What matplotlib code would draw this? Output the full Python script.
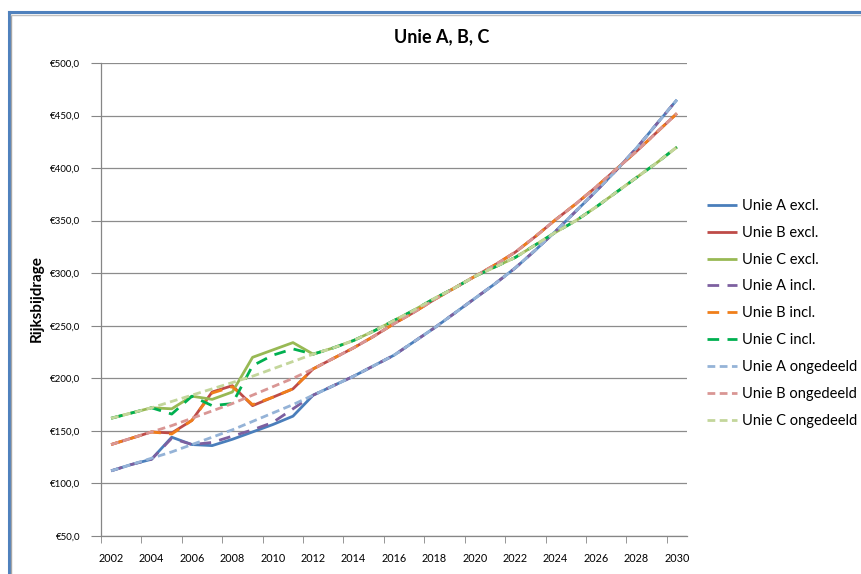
import matplotlib
matplotlib.use("Agg")
import matplotlib.pyplot as plt
from matplotlib.lines import Line2D
from matplotlib.ticker import FixedLocator, FuncFormatter

plt.rcParams['font.family'] = ['Lato', 'DejaVu Sans']

years = list(range(2002, 2031))

# shared values 2013-2030 (all variants coincide after 2012)
a_tail = [193, 202, 212, 222, 235, 248, 262, 276, 290, 305, 322, 340, 359, 378, 398, 419, 442, 465]
b_tail = [219, 229, 240, 252, 263, 275, 286, 297, 308, 320, 335, 351, 366, 382, 399, 416, 434, 452]
c_tail = [229, 236, 245, 255, 265, 276, 286, 297, 306, 315, 327, 339, 350, 363, 377, 391, 405, 420]

unie_a_excl = [112, 118, 123, 144, 137, 136, 142, 149, 156, 164, 184] + a_tail
unie_b_excl = [137, 143, 149, 148, 160, 187, 193, 174, 182, 190, 209] + b_tail
unie_c_excl = [162, 167, 172, 171, 183, 180, 187, 220, 227, 234, 223] + c_tail
unie_a_incl = [112, 118, 123, 143, 137, 139, 145, 151, 158, 171, 184] + a_tail
unie_b_incl = [137, 143, 149, 147, 160, 186, 192, 175, 182, 190, 209] + b_tail
unie_c_incl = [162, 167, 172, 166, 183, 174, 176, 212, 222, 228, 223] + c_tail
unie_a_ong = [112, 118, 124, 130, 137, 144, 151, 159, 167, 175, 184] + a_tail
unie_b_ong = [137, 143, 149, 155, 162, 169, 176, 184, 192, 200, 209] + b_tail
unie_c_ong = [162, 167, 172, 178, 184, 190, 196, 202, 209, 216, 223] + c_tail

series = [
    ("Unie A excl.", unie_a_excl, "#4A7EBB", "solid"),
    ("Unie B excl.", unie_b_excl, "#BE4B48", "solid"),
    ("Unie C excl.", unie_c_excl, "#98B954", "solid"),
    ("Unie A incl.", unie_a_incl, "#7D60A0", (0, (4.2, 3.0))),
    ("Unie B incl.", unie_b_incl, "#F07E1A", (0, (4.2, 3.0))),
    ("Unie C incl.", unie_c_incl, "#00B050", (0, (4.2, 3.0))),
    ("Unie A ongedeeld", unie_a_ong, "#95B3D7", (0, (2.8, 1.6))),
    ("Unie B ongedeeld", unie_b_ong, "#D99694", (0, (2.8, 1.6))),
    ("Unie C ongedeeld", unie_c_ong, "#C3D69B", (0, (2.8, 1.6))),
]

fig = plt.figure(figsize=(8.62, 5.74), dpi=100)
ax = fig.add_axes([101 / 862, 1 - 536 / 574, 586 / 862, 473 / 574])

handles = []
for i, (name, vals, col, ls) in enumerate(series):
    h, = ax.plot(years, vals, color=col, lw=2.0, linestyle=ls, label=name,
                 zorder=3 + i, solid_capstyle='butt', dash_capstyle='butt')
    handles.append(h)

ax.set_xlim(2001.5, 2030.5)
ax.set_ylim(50, 500)
ax.set_yticks(range(50, 501, 50))
ax.yaxis.set_major_formatter(FuncFormatter(lambda v, p: "€" + f"{v:.1f}".replace(".", ",")))
ax.set_xticks(range(2002, 2031, 2))
ax.xaxis.set_minor_locator(FixedLocator([2001.5 + 2 * k for k in range(15)]))
ax.tick_params(axis='x', which='major', length=0, pad=12, labelsize=7.8, colors='black')
ax.tick_params(axis='x', which='minor', length=5, direction='out', color='#868686')
ax.tick_params(axis='y', which='major', length=7, direction='out', color='#868686',
               labelsize=7, pad=8)
ax.grid(axis='y', color='#8C8C8C', lw=0.9)
ax.set_axisbelow(True)
for s in ['top', 'right']:
    ax.spines[s].set_visible(False)
for s in ['left', 'bottom']:
    ax.spines[s].set_color('#868686')
    ax.spines[s].set_linewidth(0.9)

fig.text(442 / 862, 1 - 37 / 574, "Unie A, B, C", ha='center', va='center',
         fontsize=13, fontweight='bold')
fig.text(37 / 862, 1 - 299 / 574, "Rijksbijdrage", ha='center', va='center',
         rotation=90, fontsize=11, fontweight='bold')

fig.legend(handles=handles, loc='upper left', bbox_to_anchor=(707 / 862, 1 - 199 / 574),
           frameon=False, fontsize=10.5, handlelength=2.05, handletextpad=0.34,
           labelspacing=0.88, borderaxespad=0, borderpad=0)

# chart frame (partially visible)
fig.add_artist(Line2D([9 / 862, 9 / 862], [0, 1 - 12 / 574], transform=fig.transFigure,
                      color='#4F81BD', lw=2.2))
fig.add_artist(Line2D([9 / 862, 1], [1 - 12 / 574, 1 - 12 / 574], transform=fig.transFigure,
                      color='#4F81BD', lw=2.2))
fig.add_artist(Line2D([11.5 / 862, 11.5 / 862], [0, 1 - 14.5 / 574], transform=fig.transFigure,
                      color='#A6A6A6', lw=1.0))
fig.add_artist(Line2D([11.5 / 862, 1], [1 - 14.5 / 574, 1 - 14.5 / 574], transform=fig.transFigure,
                      color='#BFBFBF', lw=1.0))

fig.savefig("out.png", dpi=100)
